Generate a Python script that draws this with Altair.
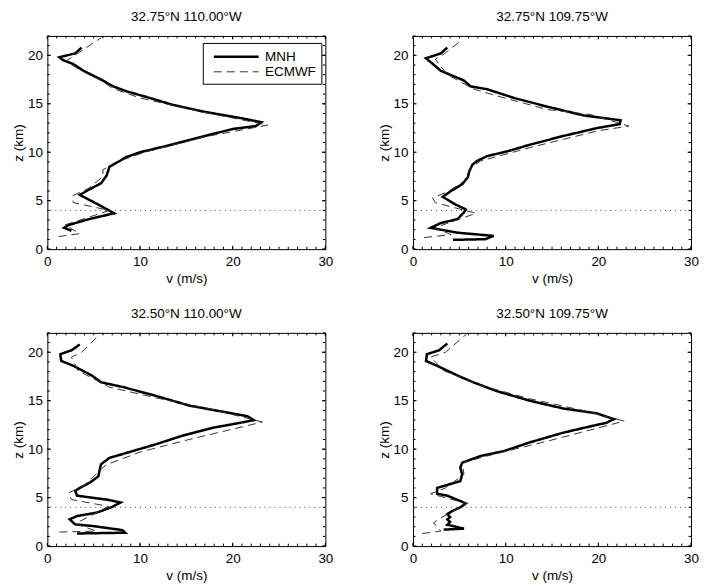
import altair as alt
import pandas as pd

FONT = "Liberation Sans"
W, H = 279, 214

titles = ["32.75°N 110.00°W", "32.75°N 109.75°W", "32.50°N 110.00°W", "32.50°N 109.75°W"]
series_names = ["MNH", "ECMWF"]

x_major = [0, 10, 20, 30]
y_major = [0, 5, 10, 15, 20]
x_minor = list(range(0, 31))
y_minor = list(range(0, 23))
z_ref = [4]

# Panel 1: 32.75N 110.00W
mnh_v_1 = [2.6, 1.8, 2.3, 4.5, 7.2, 5.7, 3.5, 4.6, 5.8, 6.4, 6.6, 6.7, 7.8, 8.5, 10.0, 13.5, 17.1, 20.0, 22.5, 23.1, 21.0, 16.8, 13.5, 10.7, 8.5, 7.1, 5.8, 3.9, 2.8, 1.7, 1.3, 3.0, 3.7]
mnh_z_1 = [1.9, 2.2, 2.5, 3.1, 3.7, 4.5, 5.6, 6.2, 6.8, 7.6, 8.2, 8.5, 9.1, 9.5, 10.0, 10.8, 11.7, 12.4, 12.7, 13.1, 13.5, 14.2, 14.9, 15.7, 16.3, 16.8, 17.5, 18.4, 19.1, 19.5, 19.8, 20.2, 20.8]
ecm_v_1 = [1.2, 3.5, 1.9, 4.5, 6.7, 2.8, 2.7, 4.5, 6.0, 6.0, 7.5, 10.5, 17.0, 23.8, 16.5, 10.0, 7.0, 6.0, 3.5, 2.0, 5.8]
ecm_z_1 = [1.3, 1.6, 2.5, 3.3, 4.0, 4.8, 5.5, 6.3, 7.5, 8.2, 9.0, 10.0, 11.6, 12.8, 14.2, 15.6, 16.6, 17.3, 18.5, 19.4, 21.8]

# Panel 2: 32.75N 109.75W
mnh_v_2 = [4.3, 7.8, 8.7, 4.8, 1.9, 3.0, 4.8, 5.5, 5.7, 4.6, 3.2, 4.1, 5.3, 5.9, 6.1, 6.4, 6.9, 8.0, 10.2, 12.7, 16.3, 19.9, 22.3, 22.4, 18.4, 14.5, 10.9, 8.0, 6.2, 5.5, 3.0, 1.4, 3.0, 3.7]
mnh_z_2 = [0.96, 1.03, 1.37, 1.7, 2.2, 2.7, 3.1, 3.8, 4.1, 4.6, 5.4, 6.0, 6.7, 7.4, 8.1, 8.7, 9.1, 9.6, 10.1, 10.8, 11.7, 12.5, 12.9, 13.3, 13.8, 14.7, 15.6, 16.5, 16.8, 17.4, 18.4, 19.7, 20.2, 20.8]
ecm_v_2 = [1.2, 4.1, 2.3, 6.8, 2.4, 2.1, 3.7, 5.5, 6.2, 7.3, 12.7, 19.9, 23.3, 19.1, 14.5, 9.1, 6.6, 3.7, 2.4, 3.3, 5.3]
ecm_z_2 = [1.2, 1.5, 2.2, 3.7, 4.8, 5.3, 5.9, 7.0, 8.4, 9.1, 10.5, 12.2, 12.7, 13.9, 14.4, 15.8, 16.5, 18.0, 19.6, 20.1, 21.6]

# Panel 3: 32.50N 110.00W
mnh_v_3 = [3.2, 8.4, 8.1, 4.9, 3.0, 2.4, 3.2, 5.3, 6.9, 7.9, 6.4, 3.2, 3.0, 3.5, 4.6, 5.5, 5.7, 5.8, 6.7, 9.2, 11.7, 14.6, 17.8, 20.7, 22.3, 21.6, 19.3, 15.3, 11.7, 8.2, 5.8, 4.8, 2.8, 1.5, 1.4, 2.6, 3.5]
mnh_z_3 = [1.3, 1.38, 1.65, 2.07, 2.24, 2.76, 3.1, 3.45, 4.0, 4.5, 4.8, 5.2, 5.7, 6.0, 6.55, 7.2, 8.1, 8.45, 9.1, 9.8, 10.5, 11.4, 12.2, 12.7, 13.0, 13.4, 13.8, 14.5, 15.5, 16.4, 16.9, 17.6, 18.6, 19.1, 19.8, 20.2, 20.8]
ecm_v_3 = [1.3, 5.3, 3.0, 6.6, 2.6, 2.3, 3.9, 6.0, 6.4, 10.0, 15.3, 23.2, 17.8, 11.7, 6.7, 3.3, 2.6, 3.7, 5.5]
ecm_z_3 = [1.45, 1.55, 2.3, 4.1, 4.8, 5.5, 6.2, 8.1, 8.4, 9.7, 11.0, 12.8, 14.1, 15.3, 16.4, 18.1, 19.5, 20.0, 21.7]

# Panel 4: 32.50N 109.75W
mnh_v_4 = [3.3, 5.5, 3.7, 4.0, 3.7, 4.0, 3.7, 4.2, 5.1, 5.7, 5.1, 3.7, 2.6, 2.6, 4.0, 5.1, 5.3, 5.1, 5.3, 7.3, 9.8, 12.6, 16.2, 19.8, 20.8, 21.7, 19.8, 16.2, 12.6, 9.0, 6.5, 4.8, 2.6, 1.4, 1.5, 2.8, 3.7]
mnh_z_4 = [1.7, 1.8, 2.2, 2.5, 2.75, 3.0, 3.3, 3.6, 4.0, 4.4, 4.65, 5.2, 5.4, 6.0, 6.4, 6.7, 7.4, 8.1, 8.6, 9.3, 9.8, 10.7, 11.7, 12.5, 12.7, 13.1, 13.7, 14.2, 15.0, 16.0, 16.9, 17.6, 18.6, 19.1, 19.8, 20.2, 20.9]
ecm_v_4 = [1.0, 3.0, 2.2, 3.0, 5.8, 1.9, 3.5, 5.5, 5.3, 9.0, 14.4, 22.8, 18.3, 12.6, 7.2, 3.3, 1.9, 3.5, 5.8]
ecm_z_4 = [1.3, 1.55, 2.4, 2.9, 4.4, 5.4, 6.0, 7.4, 8.6, 9.55, 10.8, 12.9, 14.0, 15.2, 16.6, 18.1, 19.5, 20.0, 21.9]

panels = [
    (mnh_v_1, mnh_z_1, ecm_v_1, ecm_z_1),
    (mnh_v_2, mnh_z_2, ecm_v_2, ecm_z_2),
    (mnh_v_3, mnh_z_3, ecm_v_3, ecm_z_3),
    (mnh_v_4, mnh_z_4, ecm_v_4, ecm_z_4),
]

xs = alt.Scale(domain=[0, 30], nice=False, zero=False)
ys = alt.Scale(domain=[0, 22], nice=False, zero=False)
x_axis = alt.Axis(values=x_major, title="v (m/s)", labelPadding=5, titlePadding=4,
                  format="d", labelFlush=False)
y_axis = alt.Axis(values=y_major, title="z (km)", labelPadding=5, titlePadding=2,
                  format="d", labelFlush=False)


def tick_layers(maj_len=3.5, min_len=2.5):
    layers = []
    for vals, ln in ((x_minor, min_len), (x_major, maj_len)):
        df = pd.DataFrame({"t": vals})
        for y0, y1 in ((H, H - ln), (0, ln)):
            layers.append(
                alt.Chart(df).mark_rule(color="black", strokeWidth=1).encode(
                    x=alt.X("t:Q", scale=xs, axis=x_axis),
                    y=alt.value(y0), y2=alt.value(y1)))
    for vals, ln in ((y_minor, min_len), (y_major, maj_len)):
        df = pd.DataFrame({"t": vals})
        for x0, x1 in ((0, ln), (W, W - ln)):
            layers.append(
                alt.Chart(df).mark_rule(color="black", strokeWidth=1).encode(
                    y=alt.Y("t:Q", scale=ys, axis=y_axis),
                    x=alt.value(x0), x2=alt.value(x1)))
    return layers


def make_panel(idx, show_legend):
    mv, mz, ev, ez = panels[idx]
    rows = []
    for k, (v, z) in enumerate(zip(mv, mz)):
        rows.append({"series": "MNH", "v": v, "z": z, "k": k})
    for k, (v, z) in enumerate(zip(ev, ez)):
        rows.append({"series": "ECMWF", "v": v, "z": z, "k": k})
    df = pd.DataFrame(rows)

    if show_legend:
        leg = alt.Legend(title=None, orient="none", legendX=156, legendY=7,
                         strokeColor="black", fillColor="white", padding=5,
                         symbolType="M-0.39,0H5.61", symbolSize=225, labelOffset=39.5,
                         labelFontSize=13.5, labelFont=FONT, labelColor="black",
                         rowPadding=0, cornerRadius=0)
    else:
        leg = None

    dom = series_names
    lines = alt.Chart(df).mark_line(clip=True).encode(
        x=alt.X("v:Q", scale=xs, axis=x_axis),
        y=alt.Y("z:Q", scale=ys, axis=y_axis),
        order=alt.Order("k:Q"),
        color=alt.Color("series:N", scale=alt.Scale(domain=dom, range=["black", "#333333"]), legend=leg),
        strokeDash=alt.StrokeDash("series:N", scale=alt.Scale(domain=dom, range=[[1, 0], [8, 5]]), legend=leg),
        strokeWidth=alt.StrokeWidth("series:N", scale=alt.Scale(domain=dom, range=[2.5, 1.0]), legend=leg),
    )

    ref = alt.Chart(pd.DataFrame({"t": z_ref})).mark_rule(
        color="#444444", strokeWidth=1, strokeDash=[1, 4]).encode(
        y=alt.Y("t:Q", scale=ys, axis=y_axis))

    layer = alt.layer(lines, ref, *tick_layers()).properties(
        width=W, height=H,
        title=alt.TitleParams(titles[idx], fontSize=13.5, fontWeight="normal",
                              font=FONT, color="black", offset=12, anchor="middle"))
    return layer


p = [make_panel(i, i == 0) for i in range(4)]

chart = alt.concat(*p, columns=2, spacing={"row": 20, "column": 42}).resolve_scale(
    color="independent", strokeDash="independent", strokeWidth="independent"
).properties(
    padding={"left": 2.5, "top": 0, "right": 0, "bottom": 0}
).configure_axis(
    labelFont=FONT, titleFont=FONT, labelFontSize=13.5, titleFontSize=13.5,
    titleFontWeight="normal", labelColor="black", titleColor="black",
    grid=False, ticks=False, domain=False
).configure_view(stroke="black", strokeWidth=1)

chart.save("out.html", embed_options={"renderer": "svg", "actions": False})
